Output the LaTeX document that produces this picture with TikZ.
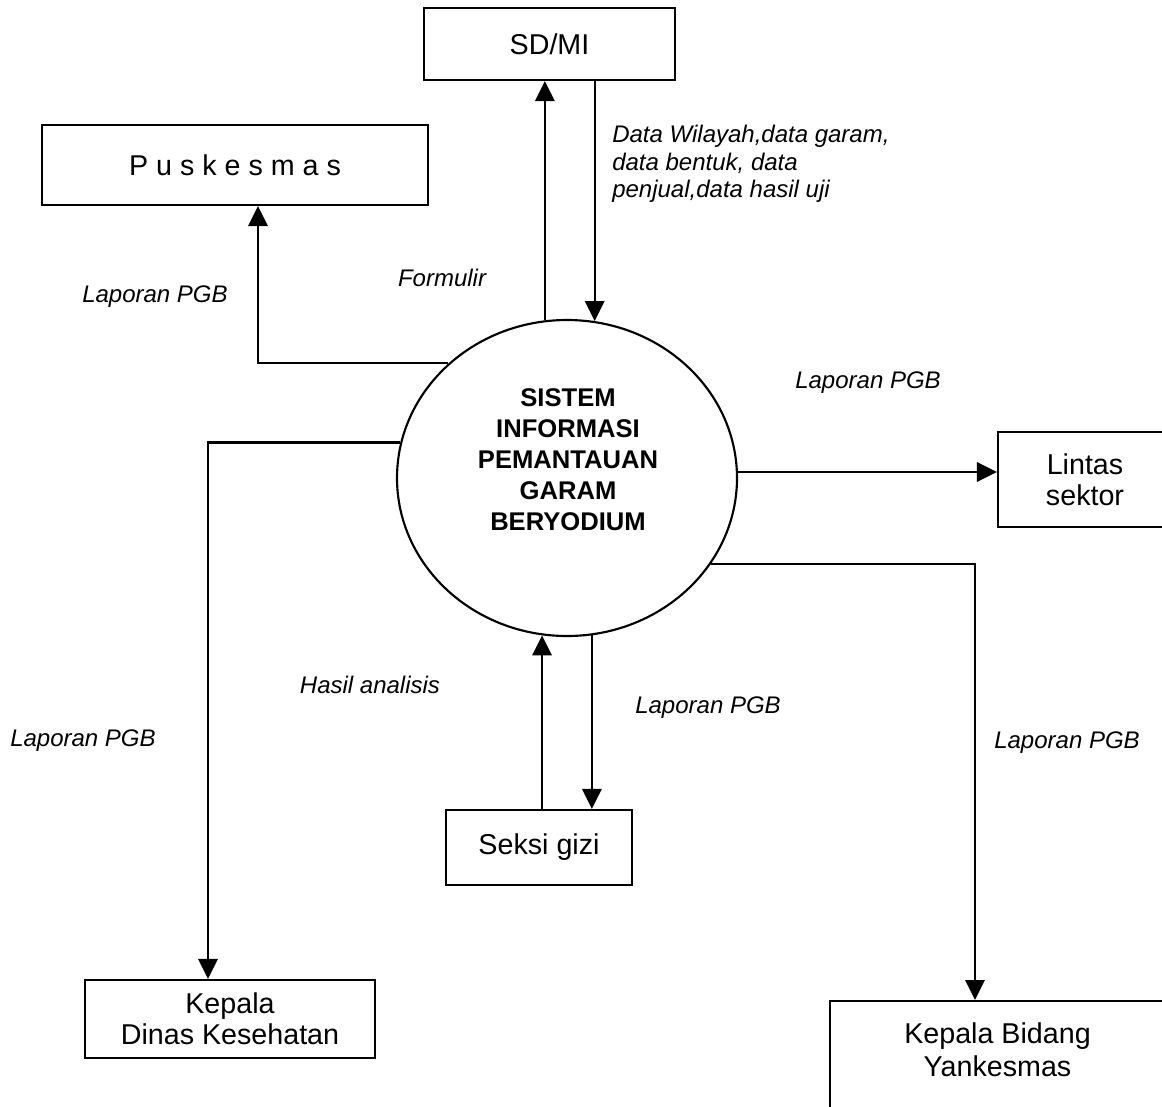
\documentclass[tikz,border=0pt]{standalone}
\usepackage{fontspec}
\setmainfont{Liberation Sans}
\usetikzlibrary{arrows.meta,shapes.geometric}

\begin{document}
\begin{tikzpicture}[x=0.75pt,y=-0.75pt,
  box/.style={draw, line width=1.6pt, inner sep=0pt, align=center,
              font=\fontsize{21.5}{23.5}\selectfont},
  boxtext/.style={inner sep=0pt, align=center, font=\fontsize{21.5}{25}\selectfont},
  flow/.style={line width=1.6pt, -{Triangle[length=15pt,width=14.5pt]}},
  lbl/.style={inner sep=0pt, align=left, font=\fontsize{18}{20.6}\selectfont\itshape}]
\useasboundingbox (0,0) rectangle (1162,1106);
\clip (0,0) rectangle (1162,1106);

% central process
\node (sys) [ellipse, draw, line width=1.6pt, minimum width=255pt,
             minimum height=237pt, inner sep=0pt] at (567,478) {};
\node (systxt) [inner sep=0pt, align=center, font=\fontsize{19.2}{23.2}\selectfont\bfseries]
  at (568,460) {SISTEM\\INFORMASI\\PEMANTAUAN\\GARAM\\BERYODIUM};

% external entities
\node (sdmi)   [box, minimum width=188.25pt, minimum height=54pt] at (549.5,44) {SD/MI};
\node (pusk)   [box, minimum width=289.5pt, minimum height=60pt] at (235,165) {P u s k e s m a s};
\node (lintas) [box, minimum width=130.5pt, minimum height=71.25pt] at (1085,479.5) {Lintas\\sektor};
\node (kdinas) [box, minimum width=217.5pt, minimum height=58.5pt] at (230,1019) {Kepala\\Dinas Kesehatan};
\node (seksi)  [box, minimum width=139.5pt, minimum height=56.25pt] at (539,847.5) {Seksi gizi};
\node (yank)   [box, minimum width=251.25pt, minimum height=90pt, anchor=north] at (997.5,1000) {};
\node (yanktxt) [boxtext] at (997.5,1050) {Kepala Bidang\\Yankesmas};

% bend columns
\coordinate (pk) at (258,0);
\coordinate (kd) at (208,0);
\coordinate (yk) at (975,0);

% data flows
\draw[flow] (sys.98) -- (sys.98 |- sdmi.south);
\draw[flow] (sys.80 |- sdmi.south) -- (sys.80);
\draw[flow] (sys.136.5) -| (pk |- pusk.south);
\draw[flow] (sys.168.8) -| (kd |- kdinas.north);
\draw[flow] (sys.2.7) -- (sys.2.7 -| lintas.west);
\draw[flow] (sys.-31.5) -| (yk |- yank.north);
\draw[flow] (sys.261.3 |- seksi.north) -- (sys.261.3);
\draw[flow] (sys.279.1) -- (sys.279.1 |- seksi.north);

% flow labels
\node[lbl, anchor=west] (ldata) at (612,164) {Data Wilayah,data garam,\\data bentuk, data\\penjual,data hasil uji};
\node[lbl] (lform)  at (442,278) {Formulir};
\node[lbl] (lpusk)  at (155,297) {Laporan PGB};
\node[lbl] (llint)  at (868,383) {Laporan PGB};
\node[lbl] (lhasil) at (370,685) {Hasil analisis};
\node[lbl] (lseksi) at (708,708) {Laporan PGB};
\node[lbl] (lkd)    at (83,741)  {Laporan PGB};
\node[lbl] (lyank)  at (1067,743) {Laporan PGB};
\end{tikzpicture}
\end{document}
